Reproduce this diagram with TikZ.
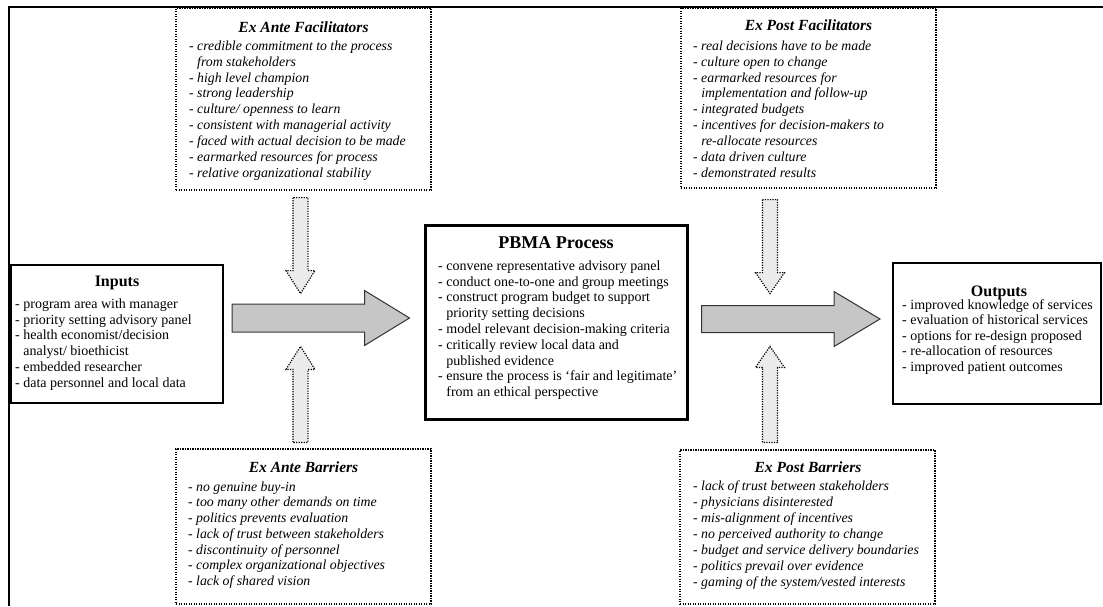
\documentclass[tikz,border=0pt]{standalone}
\usepackage{fontspec}
\setmainfont{Liberation Serif}
\usetikzlibrary{calc}

\definecolor{arrowfill}{HTML}{C6C6C6}
\definecolor{arrowline}{HTML}{333333}
\definecolor{hintfill}{HTML}{EBEBEB}

% horizontal block arrow: style, tail, tip, shaft half-width, head half-width, head length
\newcommand\rblockarrow[6]{%
  \draw[#1] ($(#2)+(0,-#4)$) -- ($(#3)+(-#6,-#4)$) -- ($(#3)+(-#6,-#5)$) -- (#3)
    -- ($(#3)+(-#6,#5)$) -- ($(#3)+(-#6,#4)$) -- ($(#2)+(0,#4)$) -- cycle;}
% vertical block arrow: style, tail, tip, shaft half-width, head half-width, offset tip->head base
\newcommand\vblockarrow[6]{%
  \draw[#1] ($(#2)+(-#4,0)$) -- ($(#3)+(-#4,#6)$) -- ($(#3)+(-#5,#6)$) -- (#3)
    -- ($(#3)+(#5,#6)$) -- ($(#3)+(#4,#6)$) -- ($(#2)+(#4,0)$) -- cycle;}

\tikzset{
  x=1pt, y=-1pt,
  frameline/.style={line width=2pt, black},
  dotbox/.style={draw, line width=1.2pt, dash pattern=on 1.2pt off 1.3pt, rectangle, inner sep=0pt},
  solidbox/.style={draw, line width=2pt, rectangle, inner sep=0pt},
  heavybox/.style={draw, line width=3pt, rectangle, inner sep=0pt},
  ttl/.style={inner sep=0pt, font=\fontsize{16}{19}\selectfont\bfseries},
  ittl/.style={inner sep=0pt, font=\fontsize{15.5}{19}\selectfont\bfseries\itshape},
  body/.style={inner sep=0pt, anchor=north west, align=left, font=\fontsize{14}{15.8}\selectfont},
  ibody/.style={body, font=\fontsize{13.8}{15.9}\selectfont\itshape},
  bigarrow/.style={fill=arrowfill, draw=arrowline, line width=1pt, line join=miter},
  hintarrow/.style={fill=hintfill, draw=black, line width=1.2pt, dash pattern=on 1.2pt off 1.3pt},
}
\newcommand\ind{\hphantom{- }}
\newcommand\fl{\rule{0pt}{10pt}}

\begin{document}
\begin{tikzpicture}
\useasboundingbox (0,0) rectangle (1103,606);

% outer frame
\draw[frameline] (1103,7) -- (9,7) -- (9,606);

% boxes
\node[dotbox, minimum width=255pt, minimum height=182pt] (eaf) at (303.5,99) {};
\node[dotbox, minimum width=255pt, minimum height=180pt] (epf) at (808.5,98) {};
\node[solidbox, minimum width=212pt, minimum height=138pt] (inp) at (117,334) {};
\node[heavybox, minimum width=262pt, minimum height=194pt] (pbma) at (556,322) {};
\node[solidbox, minimum width=208pt, minimum height=141pt] (out) at (997,333.5) {};
\node[dotbox, minimum width=255pt, minimum height=155pt] (eab) at (303.5,526.5) {};
\node[dotbox, minimum width=255pt, minimum height=154pt] (epb) at (807.5,527) {};

% titles
\node[ittl] (eafh) at (303.5,27) {Ex Ante Facilitators};
\node[ittl] (epfh) at (808.5,25) {Ex Post Facilitators};
\node[ttl] (inph) at (117,283) {Inputs};
\node[ttl, font=\fontsize{18}{21}\selectfont\bfseries] (pbmah) at (556,243) {PBMA Process};
\node[ttl] (outh) at (999,293) {Outputs};
\node[ittl] (eabh) at (303.5,467) {Ex Ante Barriers};
\node[ittl] (epbh) at (808,467) {Ex Post Barriers};

% lists
\node[ibody] (eaft) at (189,40) {\fl- credible commitment to the process\\
\ind from stakeholders\\
- high level champion\\
- strong leadership\\
- culture/ openness to learn\\
- consistent with managerial activity\\
- faced with actual decision to be made\\
- earmarked resources for process\\
- relative organizational stability};

\node[ibody] (epft) at (693,40) {\fl- real decisions have to be made\\
- culture open to change\\
- earmarked resources for\\
\ind implementation and follow-up\\
- integrated budgets\\
- incentives for decision-makers to\\
\ind re-allocate resources\\
- data driven culture\\
- demonstrated results};

\node[body] (inpt) at (15,298) {\fl- program area with manager\\
- priority setting advisory panel\\
- health economist/decision\\
\ind analyst/ bioethicist\\
- embedded researcher\\
- data personnel and local data};

\node[body] (pbmat) at (438,260) {\fl- convene representative advisory panel\\
- conduct one-to-one and group meetings\\
- construct program budget to support\\
\ind priority setting decisions\\
- model relevant decision-making criteria\\
- critically review local data and\\
\ind published evidence\\
- ensure the process is ‘fair and legitimate’\\
\ind from an ethical perspective};

\node[body, font=\fontsize{14}{15.5}\selectfont] (outt) at (902,299) {\fl- improved knowledge of services\\
- evaluation of historical services\\
- options for re-design proposed\\
- re-allocation of resources\\
- improved patient outcomes};

\node[ibody, font=\fontsize{13.8}{15.7}\selectfont\itshape] (eabt) at (188,481) {\fl- no genuine buy-in\\
- too many other demands on time\\
- politics prevents evaluation\\
- lack of trust between stakeholders\\
- discontinuity of personnel\\
- complex organizational objectives\\
- lack of shared vision};

\node[ibody, font=\fontsize{13.8}{16}\selectfont\itshape] (epbt) at (693,480) {\fl- lack of trust between stakeholders\\
- physicians disinterested\\
- mis-alignment of incentives\\
- no perceived authority to change\\
- budget and service delivery boundaries\\
- politics prevail over evidence\\
- gaming of the system/vested interests};

% main flow arrows
\coordinate (a1tail) at ($(inp.east)+(8,-16)$);
\coordinate (a1tip) at ($(pbma.west)+(-14,-4)$);
\coordinate (a2tail) at ($(pbma.east)+(13,-3)$);
\coordinate (a2tip) at ($(out.west)+(-12,-14.5)$);
\rblockarrow{bigarrow}{a1tail}{a1tip}{14}{27.5}{45}
\rblockarrow{bigarrow}{a2tail}{a2tip}{13.5}{27.5}{46}

% facilitator and barrier arrows
\coordinate (d1tail) at ($(eaf.south)+(-3,7)$);
\coordinate (d1tip) at ($(eaf.south)+(-3,103)$);
\coordinate (u1tail) at ($(eab.north)+(-3,-6)$);
\coordinate (u1tip) at ($(eab.north)+(-3,-102)$);
\coordinate (d2tail) at ($(epf.south)+(-38.5,11)$);
\coordinate (d2tip) at ($(epf.south)+(-38.5,105)$);
\coordinate (u2tail) at ($(epb.north)+(-37.5,-7)$);
\coordinate (u2tip) at ($(epb.north)+(-37.5,-103)$);
\vblockarrow{hintarrow}{d1tail}{d1tip}{7.5}{14.5}{-23}
\vblockarrow{hintarrow}{u1tail}{u1tip}{7.5}{14.5}{23}
\vblockarrow{hintarrow}{d2tail}{d2tip}{7.5}{14.5}{-21}
\vblockarrow{hintarrow}{u2tail}{u2tip}{7.5}{14.5}{21}
\end{tikzpicture}
\end{document}
